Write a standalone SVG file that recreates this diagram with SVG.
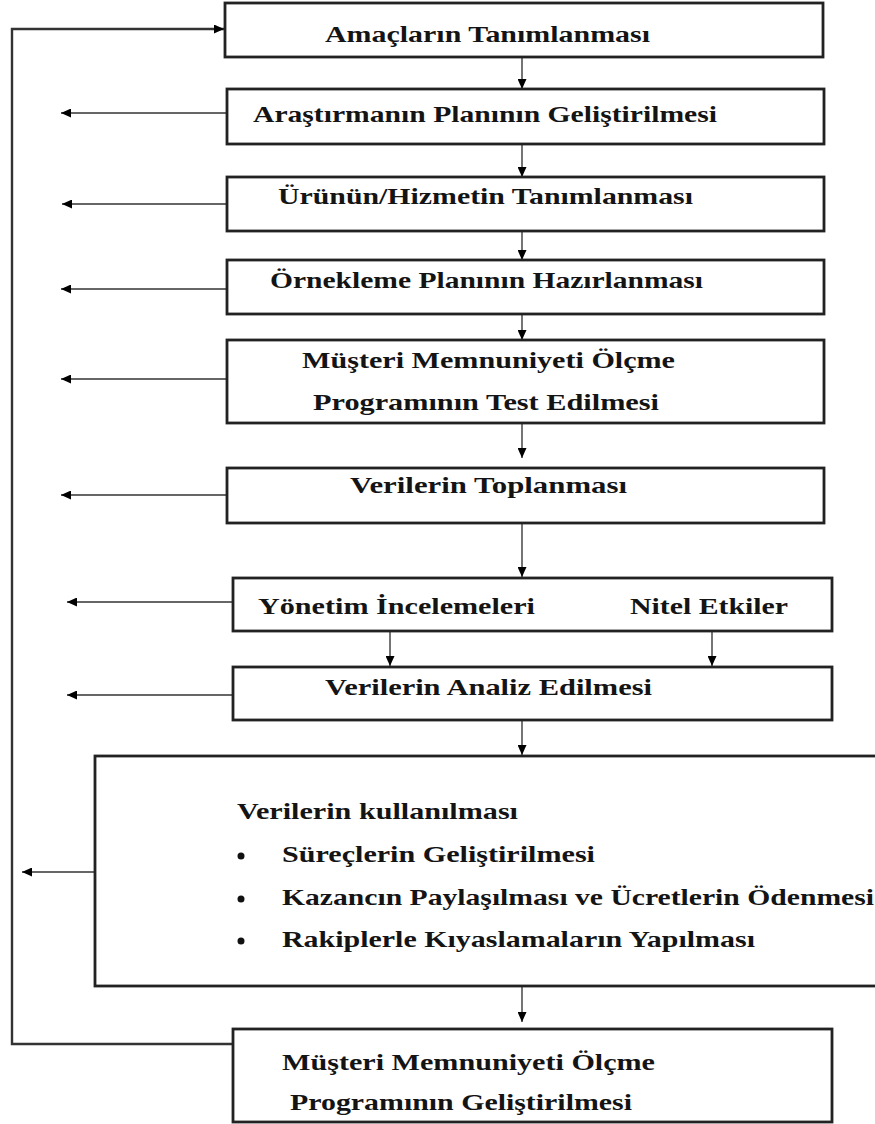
<svg xmlns="http://www.w3.org/2000/svg" width="875" height="1124" viewBox="0 0 875 1124">
  <style>
    .box { fill: #ffffff; stroke: #222222; stroke-width: 2.8; }
    .lbl { font-family: "Liberation Serif", "Times New Roman", serif; font-weight: bold; font-size: 24px; fill: #141414; }
    .conn { fill: none; stroke: #666666; stroke-width: 1.8; }
    .fb { fill: none; stroke: #333333; stroke-width: 2.4; }
    .bullet { fill: #111111; }
  </style>
  <defs>
    <marker id="arrow" viewBox="0 0 10 9" refX="10" refY="4.5" markerWidth="10" markerHeight="9" markerUnits="userSpaceOnUse" orient="auto">
      <path d="M0,0 L10,4.5 L0,9 Z" fill="#000000"/>
    </marker>
  </defs>

  <rect width="875" height="1124" fill="#ffffff"/>

  <!-- connectors -->
  <g id="connectors">
    <!-- main flow -->
    <line class="conn" x1="522" y1="57" x2="522" y2="89" marker-end="url(#arrow)"/>
    <line class="conn" x1="522" y1="144" x2="522" y2="177" marker-end="url(#arrow)"/>
    <line class="conn" x1="522" y1="231" x2="522" y2="260" marker-end="url(#arrow)"/>
    <line class="conn" x1="522" y1="314" x2="522" y2="340" marker-end="url(#arrow)"/>
    <line class="conn" x1="522" y1="423" x2="522" y2="458" marker-end="url(#arrow)"/>
    <line class="conn" x1="522" y1="523" x2="522" y2="577" marker-end="url(#arrow)"/>
    <line class="conn" x1="390" y1="631" x2="390" y2="666" marker-end="url(#arrow)"/>
    <line class="conn" x1="712" y1="631" x2="712" y2="666" marker-end="url(#arrow)"/>
    <line class="conn" x1="522" y1="720" x2="522" y2="755" marker-end="url(#arrow)"/>
    <line class="conn" x1="522" y1="986" x2="522" y2="1022" marker-end="url(#arrow)"/>

    <!-- side outputs -->
    <line class="conn" x1="227" y1="113" x2="61" y2="113" marker-end="url(#arrow)"/>
    <line class="conn" x1="227" y1="204" x2="62" y2="204" marker-end="url(#arrow)"/>
    <line class="conn" x1="227" y1="289" x2="61" y2="289" stroke="#b4b4b4" stroke-width="2.6" marker-end="url(#arrow)"/>
    <line class="conn" x1="227" y1="379" x2="61" y2="379" marker-end="url(#arrow)"/>
    <line class="conn" x1="227" y1="495" x2="61" y2="495" marker-end="url(#arrow)"/>
    <line class="conn" x1="233" y1="602" x2="67" y2="602" marker-end="url(#arrow)"/>
    <line class="conn" x1="233" y1="695" x2="67" y2="695" marker-end="url(#arrow)"/>
    <line class="conn" x1="95" y1="872" x2="22" y2="872" marker-end="url(#arrow)"/>

    <!-- feedback loop -->
    <polyline class="fb" points="233,1044 12,1044 12,29 224,29" marker-end="url(#arrow)"/>
  </g>

  <g id="n1">
    <rect class="box" x="225" y="3" width="598" height="54"/>
    <text class="lbl" x="325" y="42" textLength="325" lengthAdjust="spacingAndGlyphs">Amaçların Tanımlanması</text>
  </g>
  <g id="n2">
    <rect class="box" x="227" y="89" width="597" height="55"/>
    <text class="lbl" x="253" y="122" textLength="464" lengthAdjust="spacingAndGlyphs">Araştırmanın Planının Geliştirilmesi</text>
  </g>
  <g id="n3">
    <rect class="box" x="227" y="177" width="597" height="54"/>
    <text class="lbl" x="278" y="204" textLength="415" lengthAdjust="spacingAndGlyphs">Ürünün/Hizmetin Tanımlanması</text>
  </g>
  <g id="n4">
    <rect class="box" x="227" y="260" width="597" height="54"/>
    <text class="lbl" x="270" y="288" textLength="433" lengthAdjust="spacingAndGlyphs">Örnekleme Planının Hazırlanması</text>
  </g>
  <g id="n5">
    <rect class="box" x="227" y="340" width="597" height="83"/>
    <text class="lbl" x="302" y="368" textLength="373" lengthAdjust="spacingAndGlyphs">Müşteri Memnuniyeti Ölçme</text>
    <text class="lbl" x="313" y="410" textLength="346" lengthAdjust="spacingAndGlyphs">Programının Test Edilmesi</text>
  </g>
  <g id="n6">
    <rect class="box" x="227" y="468" width="597" height="55"/>
    <text class="lbl" x="350" y="493" textLength="277" lengthAdjust="spacingAndGlyphs">Verilerin Toplanması</text>
  </g>
  <g id="n7">
    <rect class="box" x="233" y="578" width="599" height="53"/>
    <text class="lbl" x="258" y="614" textLength="277" lengthAdjust="spacingAndGlyphs">Yönetim İncelemeleri</text>
    <text class="lbl" x="630" y="614" textLength="158" lengthAdjust="spacingAndGlyphs">Nitel Etkiler</text>
  </g>
  <g id="n8">
    <rect class="box" x="233" y="667" width="599" height="53"/>
    <text class="lbl" x="325" y="695" textLength="327" lengthAdjust="spacingAndGlyphs">Verilerin Analiz Edilmesi</text>
  </g>
  <g id="n9">
    <rect class="box" x="95" y="756" width="800" height="230"/>
    <text class="lbl" x="237" y="819" textLength="281" lengthAdjust="spacingAndGlyphs">Verilerin kullanılması</text>
    <circle class="bullet" cx="241" cy="856" r="3.5"/>
    <text class="lbl" x="282" y="862" textLength="313" lengthAdjust="spacingAndGlyphs">Süreçlerin Geliştirilmesi</text>
    <circle class="bullet" cx="241" cy="899" r="3.5"/>
    <text class="lbl" x="282" y="905" textLength="592" lengthAdjust="spacingAndGlyphs">Kazancın Paylaşılması ve Ücretlerin Ödenmesi</text>
    <circle class="bullet" cx="241" cy="941" r="3.5"/>
    <text class="lbl" x="282" y="947" textLength="473" lengthAdjust="spacingAndGlyphs">Rakiplerle Kıyaslamaların Yapılması</text>
  </g>
  <g id="n10">
    <rect class="box" x="233" y="1029" width="599" height="93"/>
    <text class="lbl" x="282" y="1070" textLength="373" lengthAdjust="spacingAndGlyphs">Müşteri Memnuniyeti Ölçme</text>
    <text class="lbl" x="290" y="1110" textLength="342" lengthAdjust="spacingAndGlyphs">Programının Geliştirilmesi</text>
  </g>
</svg>
